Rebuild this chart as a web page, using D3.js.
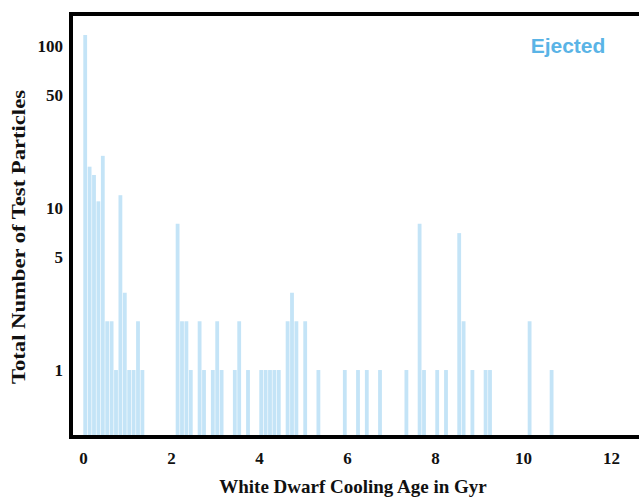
<!DOCTYPE html>
<html>
<head>
<meta charset="utf-8">
<script src="https://cdn.jsdelivr.net/npm/d3@7"></script>
<style>
  body { margin: 0; background: #fff; }
  .axis text { font-family: "Liberation Serif", "DejaVu Serif", serif; font-weight: bold; font-size: 17px; fill: #111; }
  .axis path, .axis line { display: none; }
</style>
</head>
<body>
<div id="chart"></div>
<script>
var W = 639, H = 498;
var binWidth = 0.1;

// left edge of each 0.1 Gyr bin (in Gyr) and the number of particles in it
var binStart = [0.0,0.1,0.2,0.3,0.4,0.5,0.6,0.7,0.8,0.9,1.0,1.1,1.2,1.3,
                2.1,2.2,2.3,2.4,2.6,2.7,2.9,3.0,3.1,3.4,3.5,3.7,
                4.0,4.1,4.2,4.3,4.4,4.6,4.7,4.8,5.0,5.3,5.9,6.2,6.4,6.7,
                7.3,7.6,7.7,8.0,8.2,8.5,8.6,8.8,9.1,9.2,10.1,10.6];
var counts   = [117,18,16,11,21,2,2,1,12,3,1,1,2,1,
                8,2,2,1,2,1,1,2,1,1,2,1,
                1,1,1,1,1,2,3,2,2,1,1,1,1,1,
                1,8,1,1,1,7,2,1,1,1,2,1];

var xTicks = [0,2,4,6,8,10,12];
var yTicks = [1,5,10,50,100];

var svg = d3.select('#chart').append('svg')
            .attr('width', W)
            .attr('height', H);

var x = d3.scaleLinear().domain([0,12]).range([83,611]);
var y = d3.scaleLog().domain([0.386,157.7]).range([437,14]);

svg.selectAll('rect.bar')
   .data(binStart)
   .enter()
   .append('rect')
   .attr('class','bar')
   .attr('x', function(d){ return x(d) + 0.3; })
   .attr('width', function(d){ return x(d+binWidth) - x(d) - 0.6; })
   .attr('y', function(d,i){ return y(counts[i]); })
   .attr('height', function(d,i){ return 437 - y(counts[i]); })
   .attr('fill', '#c4e4f7');

// frame
svg.append('rect')
   .attr('x',71).attr('y',14)
   .attr('width',570).attr('height',423)
   .attr('fill','none')
   .attr('stroke','#000')
   .attr('stroke-width',4);

svg.append('g')
   .attr('class','axis')
   .attr('transform','translate(0,449)')
   .call(d3.axisBottom(x).tickValues(xTicks).tickSize(0).tickFormat(d3.format('d')));

svg.append('g')
   .attr('class','axis')
   .attr('transform','translate(66,0)')
   .call(d3.axisLeft(y).tickValues(yTicks).tickSize(0).tickFormat(d3.format('d')));

svg.append('text')
   .attr('x',353).attr('y',493)
   .attr('text-anchor','middle')
   .style('font-family','"Liberation Serif", "DejaVu Serif", serif')
   .style('font-weight','bold')
   .style('font-size','19px')
   .attr('fill','#111')
   .text('White Dwarf Cooling Age in Gyr');

svg.append('text')
   .attr('transform','translate(25,237) rotate(-90)')
   .attr('text-anchor','middle')
   .attr('textLength',294)
   .attr('lengthAdjust','spacingAndGlyphs')
   .style('font-family','"Liberation Serif", "DejaVu Serif", serif')
   .style('font-weight','bold')
   .style('font-size','19px')
   .attr('fill','#111')
   .text('Total Number of Test Particles');

svg.append('text')
   .attr('x',568).attr('y',53)
   .attr('text-anchor','middle')
   .style('font-family','"Liberation Sans", Arial, sans-serif')
   .style('font-weight','bold')
   .style('font-size','21px')
   .attr('fill','#5ab4e6')
   .text('Ejected');
</script>
</body>
</html>
